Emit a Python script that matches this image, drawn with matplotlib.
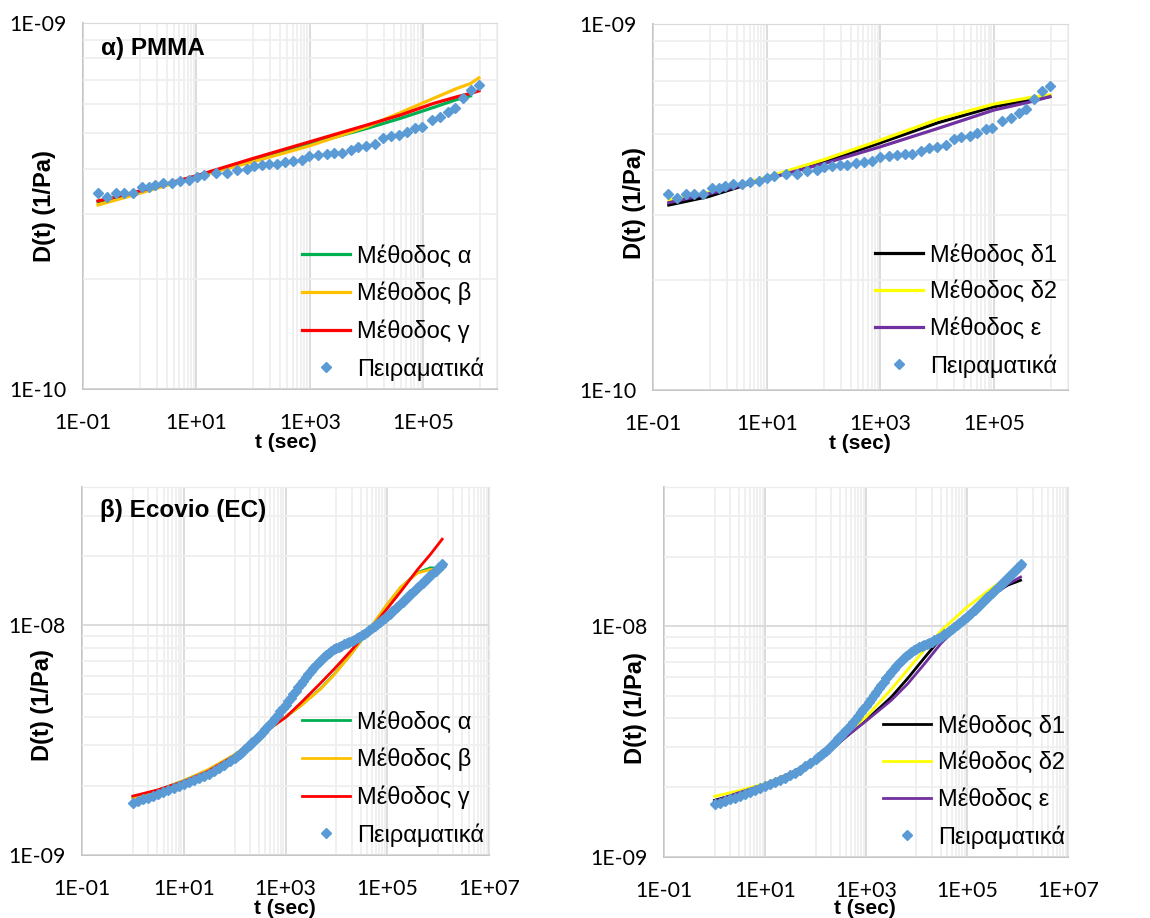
import matplotlib
matplotlib.use("Agg")
import matplotlib.pyplot as plt
from matplotlib.ticker import FixedLocator, FuncFormatter, NullFormatter
from matplotlib.lines import Line2D

plt.rcParams['font.family'] = ['Lato', 'Noto Sans', 'DejaVu Sans']

# ---------------- PMMA (D in units of 1e-10 1/Pa) ----------------
pmma_t_exp = [0.184, 0.265, 0.386, 0.535, 0.76, 1.09, 1.43, 1.88, 2.56, 3.70,
              5.19, 7.27, 10.2, 13.7, 22.3, 34.4, 51.6, 77.4, 104, 142,
              194, 262, 367, 514, 721, 984, 1419, 1988, 2712, 3653,
              5264, 7183, 9802, 14130, 19810, 26680, 37850, 51030, 71500, 93800,
              140700, 197200, 276500, 362500, 508500, 684500, 959000]
pmma_d_exp = [3.44, 3.34, 3.44, 3.44, 3.44, 3.56, 3.56, 3.61, 3.65, 3.65,
              3.69, 3.72, 3.79, 3.84, 3.88, 3.90, 3.96, 3.99, 4.06, 4.09,
              4.12, 4.13, 4.16, 4.20, 4.22, 4.33, 4.36, 4.38, 4.40, 4.40,
              4.50, 4.59, 4.62, 4.67, 4.86, 4.91, 4.94, 5.05, 5.17, 5.20,
              5.43, 5.52, 5.72, 5.86, 6.24, 6.55, 6.79]

pmma_t_fit = [0.184, 0.78, 10, 100, 1000, 1e4, 3.9e4, 1.5e5, 3.9e5, 6.8e5, 9.6e5]
pmma_alpha = [3.250, 3.424, 3.802, 4.222, 4.668, 5.150, 5.485, 5.876, 6.179, 6.323]
pmma_beta = [3.183, 3.388, 3.802, 4.178, 4.618, 5.205, 5.683, 6.218, 6.623, 6.83, 7.079]
pmma_gamma = [3.264, 3.439, 3.825, 4.266, 4.737, 5.260, 5.601, 6.026, 6.284, 6.42, 6.525]

pmma_t_fit2 = [0.19, 0.93, 9.9, 105, 1014, 10350, 1e5, 4.5e5, 9.6e5]
pmma_delta1 = [3.203, 3.375, 3.787, 4.206, 4.740, 5.376, 5.945, 6.200, 6.333]
pmma_delta2 = [3.305, 3.461, 3.811, 4.268, 4.820, 5.490, 6.046, 6.305, 6.397]
pmma_eps = [3.250, 3.431, 3.771, 4.162, 4.622, 5.186, 5.821, 6.135, 6.333]

# ---------------- Ecovio (D in units of 1e-9 1/Pa) ----------------
ec_t_exp = [1.0, 1.26, 1.58, 2.0, 2.51, 3.16, 3.98, 5.01, 6.31, 7.94,
            10, 12.6, 15.8, 20.0, 25.1, 31.6, 39.8, 50.1, 63.1, 79.4,
            100, 112, 126, 141, 158, 178, 200, 224, 251, 282,
            316, 355, 398, 447, 501, 562, 631, 708, 794, 891,
            1000, 1122, 1259, 1413, 1585, 1778, 1995, 2239, 2512, 2818,
            3162, 3548, 3981, 4467, 5012, 5623, 6310, 7079, 7943, 8913,
            1.0e4, 1.122e4, 1.259e4, 1.413e4, 1.585e4, 1.778e4, 1.995e4, 2.239e4, 2.512e4, 2.818e4,
            3.162e4, 3.548e4, 3.981e4, 4.467e4, 5.012e4, 5.623e4, 6.310e4, 7.079e4, 7.943e4, 8.913e4,
            1.0e5, 1.122e5, 1.259e5, 1.413e5, 1.585e5, 1.778e5, 1.995e5, 2.239e5, 2.512e5, 2.818e5,
            3.162e5, 3.548e5, 3.981e5, 4.467e5, 5.012e5, 5.623e5, 6.310e5, 7.079e5, 7.943e5, 8.913e5,
            1.0e6, 1.122e6, 1.2e6]
ec_d_exp = [1.689, 1.718, 1.746, 1.775, 1.805, 1.835, 1.873, 1.911, 1.949, 1.988,
            2.029, 2.070, 2.112, 2.154, 2.205, 2.258, 2.319, 2.389, 2.470, 2.554,
            2.650, 2.704, 2.758, 2.814, 2.880, 2.949, 3.018, 3.090, 3.172, 3.260,
            3.346, 3.437, 3.530, 3.626, 3.736, 3.850, 3.968, 4.089, 4.227, 4.371,
            4.518, 4.672, 4.831, 5.012, 5.183, 5.376, 5.558, 5.746, 5.942, 6.143,
            6.330, 6.523, 6.722, 6.904, 7.092, 7.260, 7.430, 7.581, 7.734, 7.864,
            7.969, 8.077, 8.158, 8.268, 8.351, 8.463, 8.548, 8.663, 8.780, 8.898,
            9.048, 9.200, 9.355, 9.512, 9.704, 9.900, 10.10, 10.30, 10.51, 10.73,
            10.98, 11.24, 11.50, 11.78, 12.06, 12.34, 12.68, 12.98, 13.33, 13.64,
            13.96, 14.29, 14.63, 14.98, 15.33, 15.70, 16.11, 16.50, 16.89, 17.29,
            17.76, 18.18, 18.48]

ec_t_fit = [1.0, 3.0, 9.7, 28.8, 96, 238, 436, 1000, 1970, 4890,
            8930, 19000, 40500, 63600, 1e5, 1.83e5, 3.89e5, 7.1e5, 1.2e6]
ec_alpha = [1.78, 1.91, 2.10, 2.33, 2.71, 3.14, 3.49, 3.98, 4.46, 5.30,
            6.10, 7.46, 9.30, 10.70, 12.30, 14.60, 16.95, 17.80, 17.65]
ec_beta = [1.764, 1.905, 2.105, 2.342, 2.721, 3.142, 3.495, 3.99, 4.45, 5.28,
           6.07, 7.44, 9.33, 10.74, 12.36, 14.62, 16.87, 17.50, 17.50]
ec_gamma = [1.805, 1.917, 2.084, 2.303, 2.694, 3.142, 3.495, 3.97, 4.58, 5.60,
            6.43, 7.71, 9.31, 10.47, 11.83, 14.0, 17.42, 20.4, 23.7]

ec_t_fit2 = [1.0, 2.9, 9.8, 28.4, 95.5, 237, 435, 1000, 3130, 6680,
             14300, 30500, 1e5, 2.97e5, 6.36e5, 1.15e6]
ec_delta1 = [1.759, 1.880, 2.043, 2.257, 2.578, 2.994, 3.363, 3.905, 4.91, 5.93,
             7.28, 8.87, 11.25, 13.52, 15.03, 15.78]
ec_delta2 = [1.831, 1.931, 2.077, 2.279, 2.604, 3.044, 3.420, 4.037, 5.31, 6.47,
             7.88, 9.53, 12.08, 14.52, 16.29, 17.70]
ec_eps = [1.742, 1.893, 2.057, 2.279, 2.621, 3.014, 3.363, 3.879, 4.76, 5.62,
          6.85, 8.41, 10.92, 13.43, 15.17, 16.30]

COL_EXP = '#5b9bd5'
W, H = 1150, 918
fig = plt.figure(figsize=(W / 100, H / 100), dpi=100)


def add_axes_px(left, top, right, bottom):
    return fig.add_axes([left / W, 1 - bottom / H, (right - left) / W, (bottom - top) / H])


def sci(v, _pos):
    return f"{v:.0E}"


def style_axes(ax, xlim, ylim, xmaj, ymaj, ymin):
    ax.set_xscale('log')
    ax.set_yscale('log')
    ax.set_xlim(*xlim)
    ax.set_ylim(*ylim)
    xmin = [k * 10.0 ** j for j in (0, 2, 4, 6) for k in range(1, 10)]
    ax.xaxis.set_major_locator(FixedLocator(xmaj))
    ax.xaxis.set_minor_locator(FixedLocator(xmin))
    ax.yaxis.set_major_locator(FixedLocator(ymaj))
    ax.yaxis.set_minor_locator(FixedLocator(ymin))
    ax.xaxis.set_major_formatter(FuncFormatter(sci))
    ax.yaxis.set_major_formatter(FuncFormatter(sci))
    ax.xaxis.set_minor_formatter(NullFormatter())
    ax.yaxis.set_minor_formatter(NullFormatter())
    ax.grid(which='minor', color='#efefef', lw=1.3, zorder=0)
    ax.grid(which='major', color='#d9d9d9', lw=1.3, zorder=0)
    ax.set_axisbelow(True)
    ax.tick_params(which='both', length=0, labelsize=15.3, colors='black')
    ax.tick_params(axis='x', pad=17)
    ax.tick_params(axis='y', pad=12)
    for s in ('left', 'bottom'):
        ax.spines[s].set_color('#bfbfbf')
        ax.spines[s].set_linewidth(1.3)
    ax.spines['top'].set_color('#d9d9d9')
    ax.spines['right'].set_color('#e8e8e8')
    for s in ax.spines.values():
        s.set_zorder(0.5)


def labels(ax, ylab_pos, xlab_pos):
    ax.set_xlabel('t (sec)', fontsize=15, fontweight='bold', family='Liberation Sans')
    ax.set_ylabel('D(t) (1/Pa)', fontsize=17, fontweight='bold', family='Liberation Sans')
    ax.yaxis.set_label_coords(*ylab_pos)
    ax.yaxis.label.set_va('center')
    ax.xaxis.set_label_coords(*xlab_pos)
    ax.xaxis.label.set_va('center')


def legend(ax, handles, x, y):
    ax.legend(handles=handles, loc='upper left', bbox_to_anchor=(x / W, 1 - y / H),
              bbox_transform=fig.transFigure, frameon=False, borderpad=0,
              borderaxespad=0, handlelength=2.03, handletextpad=0.29,
              labelspacing=0.6, numpoints=1,
              prop={'family': 'Liberation Sans', 'size': 17})


def exp_handle():
    return Line2D([], [], ls='none', marker='D', ms=5.6, color=COL_EXP, label='Πειραματικά')


top_xmaj = [1e-1, 1e1, 1e3, 1e5]
bot_xmaj = [1e-1, 1e1, 1e3, 1e5, 1e7]
top_ymin = [k * 1e-10 for k in range(2, 10)]
bot_ymin = [k * 1e-9 for k in range(2, 10)] + [2e-8, 3e-8, 4e-8]


def s10(v):
    return [x * 1e-10 for x in v]


def s9(v):
    return [x * 1e-9 for x in v]


# ---- top-left: PMMA, methods α/β/γ
ax = add_axes_px(83, 23, 497, 389)
style_axes(ax, (0.1, 2e6), (1e-10, 1e-9), top_xmaj, [1e-10, 1e-9], top_ymin)
h1, = ax.plot(pmma_t_fit[:len(pmma_alpha)], s10(pmma_alpha), color='#00b050', lw=2.3, label='Μέθοδος α')
h2, = ax.plot(pmma_t_fit, s10(pmma_beta), color='#ffc000', lw=2.3, label='Μέθοδος β')
h3, = ax.plot(pmma_t_fit, s10(pmma_gamma), color='#ff0000', lw=2.3, label='Μέθοδος γ')
ax.plot(pmma_t_exp, s10(pmma_d_exp), ls='none', marker='D', ms=5.2, color=COL_EXP, zorder=5)
ax.text(0.0435, 0.929, 'α) PMMA', transform=ax.transAxes, fontsize=17.5, fontweight='bold',
        family='Liberation Sans', va='center', ha='left')
labels(ax, (-0.092, 0.5), (0.49, -0.1475))
legend(ax, [h1, h2, h3, exp_handle()], 302, 245)

# ---- top-right: PMMA, methods δ1/δ2/ε
ax = add_axes_px(653, 24, 1068, 390)
style_axes(ax, (0.1, 2e6), (1e-10, 1e-9), top_xmaj, [1e-10, 1e-9], top_ymin)
h1, = ax.plot(pmma_t_fit2, s10(pmma_delta1), color='#000000', lw=2.3, label='Μέθοδος δ1')
h2, = ax.plot(pmma_t_fit2, s10(pmma_delta2), color='#ffff00', lw=2.3, label='Μέθοδος δ2')
h3, = ax.plot(pmma_t_fit2, s10(pmma_eps), color='#7030a0', lw=2.3, label='Μέθοδος ε')
ax.plot(pmma_t_exp, s10(pmma_d_exp), ls='none', marker='D', ms=5.2, color=COL_EXP, zorder=5)
labels(ax, (-0.0434, 0.512), (0.4988, -0.145))
legend(ax, [h1, h2, h3, exp_handle()], 875, 244)

# ---- bottom-left: Ecovio, methods α/β/γ
ax = add_axes_px(82, 487, 489, 855)
style_axes(ax, (0.1, 1e7), (1e-9, 4e-8), bot_xmaj, [1e-9, 1e-8], bot_ymin)
h1, = ax.plot(ec_t_fit, s9(ec_alpha), color='#00b050', lw=2.0, label='Μέθοδος α')
h2, = ax.plot(ec_t_fit, s9(ec_beta), color='#ffc000', lw=2.0, label='Μέθοδος β')
h3, = ax.plot(ec_t_fit, s9(ec_gamma), color='#ff0000', lw=2.0, label='Μέθοδος γ')
ax.plot(ec_t_exp, s9(ec_d_exp), ls='none', marker='D', ms=5.2, color=COL_EXP, zorder=5)
ax.text(0.0442, 0.935, 'β) Ecovio (EC)', transform=ax.transAxes, fontsize=17.5, fontweight='bold',
        family='Liberation Sans', va='center', ha='left')
labels(ax, (-0.0966, 0.408), (0.499, -0.145))
legend(ax, [h1, h2, h3, exp_handle()], 302, 711)

# ---- bottom-right: Ecovio, methods δ1/δ2/ε
ax = add_axes_px(664, 487, 1068, 857)
style_axes(ax, (0.1, 1e7), (1e-9, 4e-8), bot_xmaj, [1e-9, 1e-8], bot_ymin)
h1, = ax.plot(ec_t_fit2, s9(ec_delta1), color='#000000', lw=2.0, label='Μέθοδος δ1')
h2, = ax.plot(ec_t_fit2, s9(ec_delta2), color='#ffff00', lw=2.0, label='Μέθοδος δ2')
h3, = ax.plot(ec_t_fit2, s9(ec_eps), color='#7030a0', lw=2.0, label='Μέθοδος ε')
ax.plot(ec_t_exp, s9(ec_d_exp), ls='none', marker='D', ms=5.2, color=COL_EXP, zorder=5)
labels(ax, (-0.070, 0.403), (0.4975, -0.138))
legend(ax, [h1, h2, h3, exp_handle()], 883, 715)

fig.savefig('out.png', dpi=100)
